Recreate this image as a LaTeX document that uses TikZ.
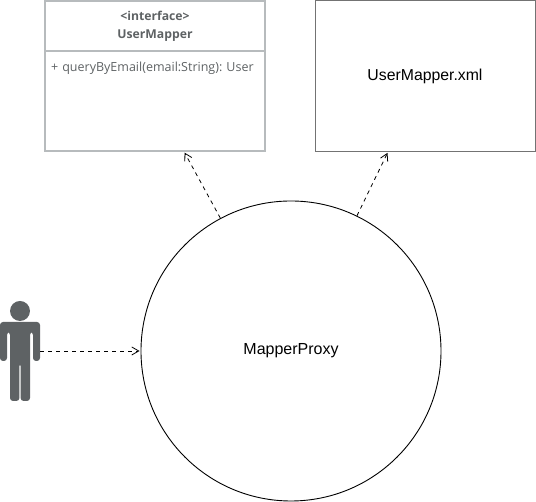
\documentclass[tikz,border=0pt]{standalone}
\usepackage{fontspec}
\setmainfont{Liberation Sans}
\newfontfamily\classfont{Open Sans}
\usetikzlibrary{arrows.meta, positioning}

\definecolor{umlgray}{HTML}{B7BBBD}
\definecolor{umltext}{HTML}{5E6264}

\tikzset{
    proxycircle/.style={draw, line width=0.9pt, circle, minimum size=300pt, inner sep=0pt, font=\fontsize{16}{18}\selectfont},
    xmlbox/.style={draw=black!55, line width=0.9pt, minimum width=220pt, minimum height=151pt, inner sep=0pt, font=\fontsize{15.8}{18}\selectfont},
    classbox/.style={draw=umlgray, line width=1.5pt, minimum width=220pt, minimum height=150pt, inner sep=0pt},
    classtitle/.style={classbox, minimum height=50pt, text=umltext, align=center, font=\classfont\bfseries\fontsize{12.2}{18}\selectfont},
    classmember/.style={text=umltext, text width=208pt, inner sep=0pt, align=left, font=\classfont\frenchspacing\fontsize{12.5}{14}\selectfont},
    personbox/.style={minimum width=40pt, minimum height=100pt, inner sep=0pt},
    dep/.style={-{Straight Barb[length=7pt, width=8pt]}, line width=0.8pt, dash pattern=on 4pt off 4pt, shorten >=1pt}
}

\begin{document}
\begin{tikzpicture}[x=1pt, y=1pt, on grid]
    \useasboundingbox (0,0) rectangle (536,502);

    \node[proxycircle] (proxy) at (291,151) {MapperProxy};

    \node[classbox] (mapper) [above left=275pt and 136pt of proxy] {};
    \node[classtitle, anchor=north] (mappertitle) at (mapper.north) {<interface>\\UserMapper};
    \node[classmember] (mappermember) [below=62pt of mapper.north] {+ queryByEmail(email:String): User};

    \node[xmlbox] (xml) [above right=275pt and 134pt of proxy] {UserMapper.xml};

    \node[personbox] (person) [left=271pt of proxy] {};
    % figure of the person, around its box
    \begin{scope}[shift={(person.center)}]
        \fill[umltext] (0,40) circle (10);
        \fill[umltext, rounded corners=3pt] (-20,29) -- (-20,-10) -- (-13,-10) -- (-13,19)
            -- (-10,19) -- (-10,-50) -- (-0.6,-50) -- (-0.6,-12) -- (0.6,-12) -- (0.6,-50) -- (10,-50)
            -- (10,19) -- (13,19) -- (13,-10) -- (20,-10) -- (20,29) -- cycle;
    \end{scope}

    \draw[dep] (proxy.118.8) -- (mapper.-69.8);
    \draw[dep] (proxy.64.3) -- (xml.-116);
    \draw[dep] (person.east) -- (proxy.west);
\end{tikzpicture}
\end{document}
